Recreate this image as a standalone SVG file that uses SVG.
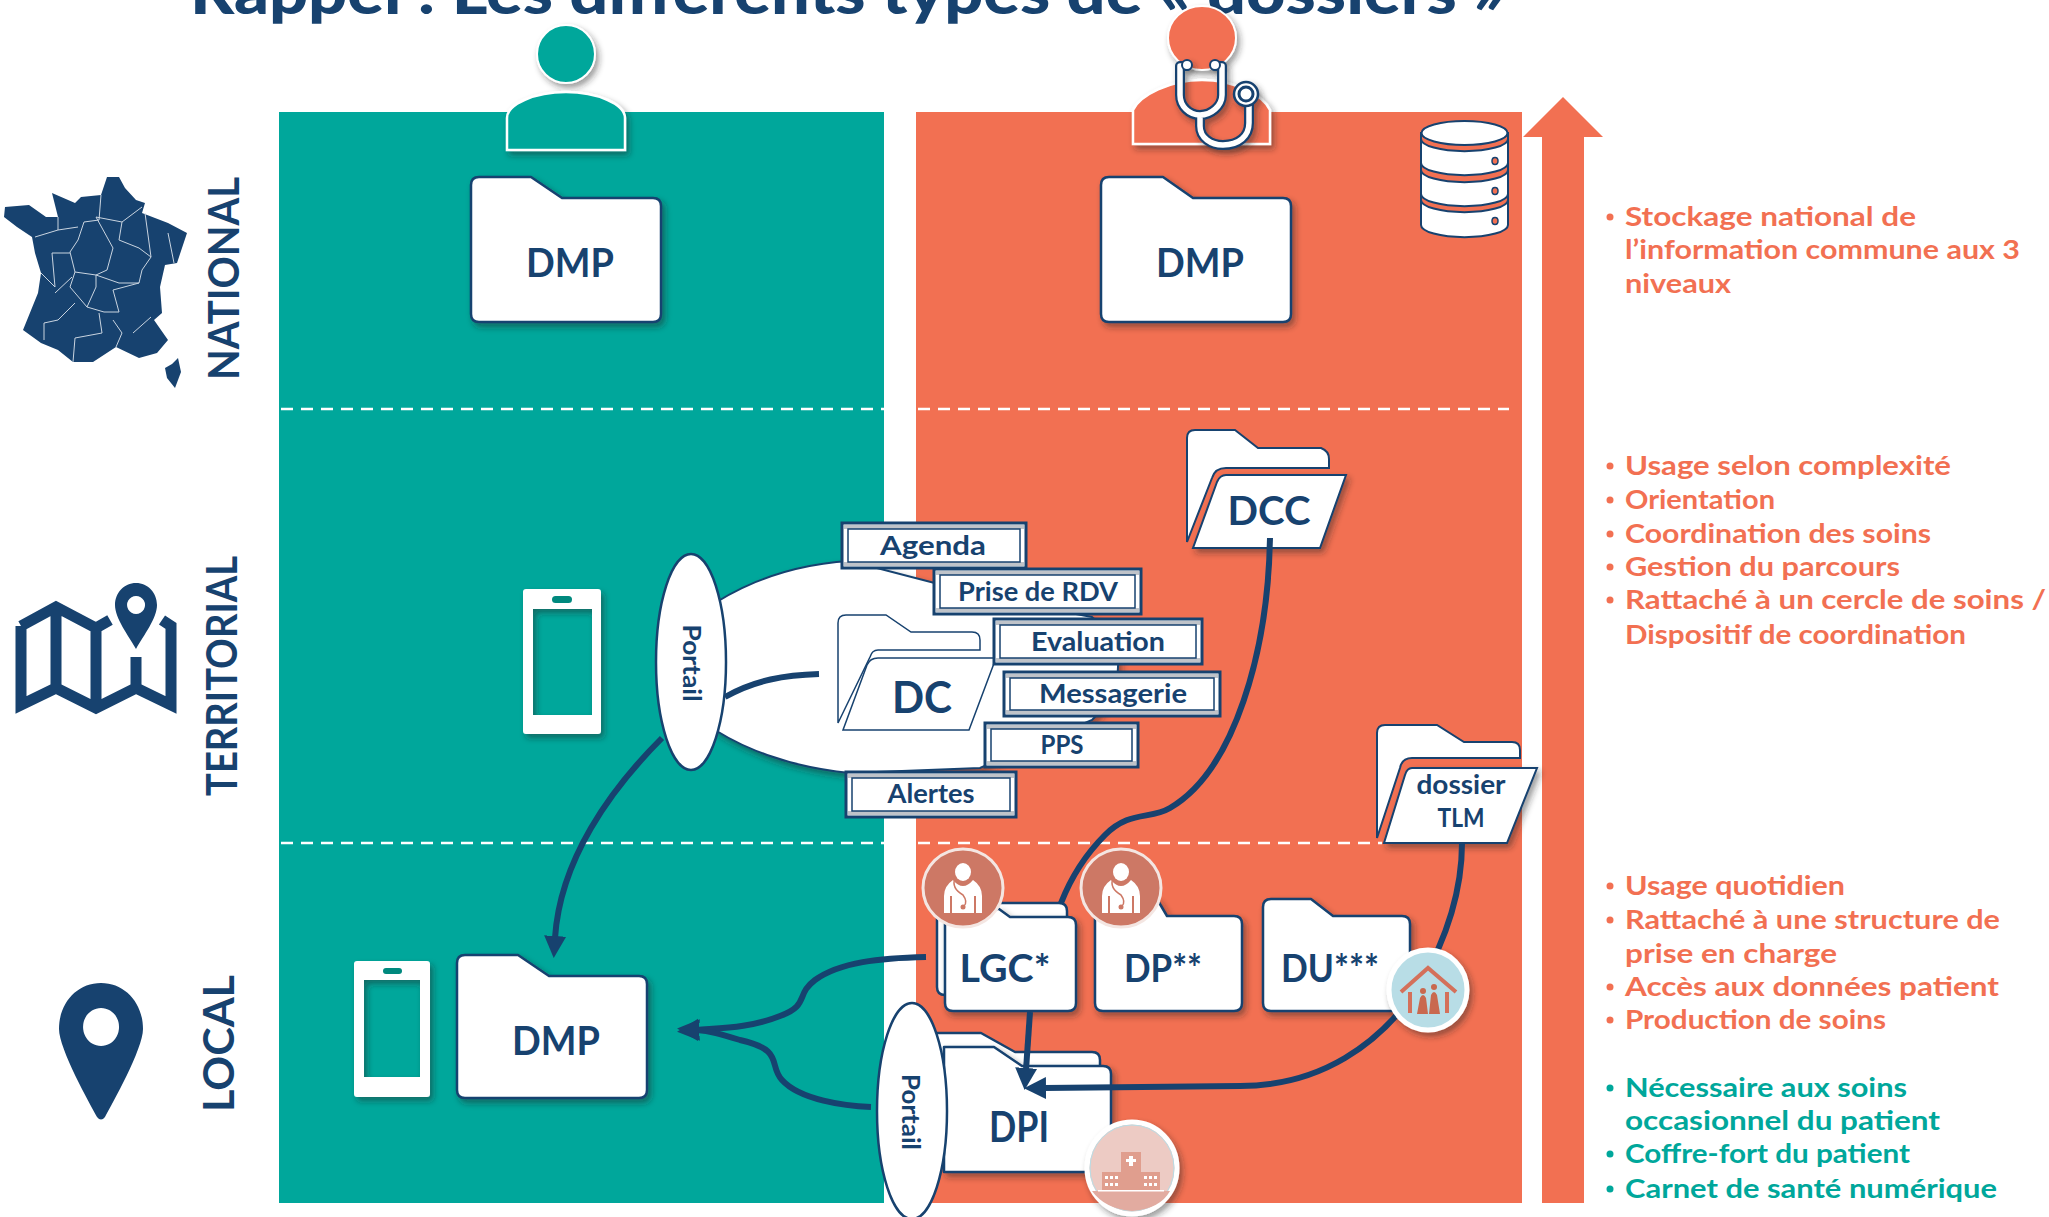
<svg xmlns="http://www.w3.org/2000/svg" width="2049" height="1217" viewBox="0 0 2049 1217">
<style>
text{font-family:"Lato","Liberation Sans",sans-serif;font-weight:700;fill:#17426F}
.c{text-anchor:middle}
.f{fill:#fff;stroke:#17426F;stroke-width:2.5;stroke-linejoin:round}
.card{fill:#fff;stroke:#17426F;stroke-width:3}
.inner{fill:#fff;stroke:#17426F;stroke-width:1.5}
.bev{fill:#bfc3c9}
.ct{font-size:27px}
.dash{stroke:#fff;stroke-width:2.5;stroke-dasharray:12 8;fill:none}
.o{font-size:27px;fill:#F27052}
.t{font-size:27px;fill:#00A79B}
.bo{fill:#F27052}.bt{fill:#00A79B}
.conn{fill:none;stroke:#17426F;stroke-width:6;stroke-linecap:butt}
.tube{fill:none;stroke:#17426F;stroke-width:10;stroke-linecap:round;stroke-linejoin:round}
.tubew{fill:none;stroke:#fff;stroke-width:5.5;stroke-linecap:round;stroke-linejoin:round}
.reg{fill:none;stroke:#c9d4e0;stroke-width:1}
.db{fill:#fff;stroke:#17426F;stroke-width:2}
.dbo{fill:#F27052;stroke:#17426F;stroke-width:2}
</style>
<defs>
<filter id="sh" x="-20%" y="-20%" width="140%" height="140%"><feDropShadow dx="3" dy="4" stdDeviation="3" flood-color="#222" flood-opacity="0.45"/></filter>
<marker id="ah" markerUnits="userSpaceOnUse" markerWidth="24" markerHeight="24" refX="2" refY="11" orient="auto"><path d="M0,0L22,11L0,22Z" fill="#17426F"/></marker>
</defs>

<rect id="band-patient" x="279" y="112" width="605" height="1091" fill="#00A79B"/>
<rect id="band-pro" x="916" y="112" width="606" height="1091" fill="#F27052"/>
<path d="M281,409H884M281,843H884M918,409H1509M918,843H1382" class="dash"/>

<text x="190" y="14" font-size="60" style="font-weight:900" textLength="1315" lengthAdjust="spacingAndGlyphs">Rappel : Les différents types de « dossiers »</text>

<g id="arrow-up"><path d="M1542,1203V137H1523L1563,97L1603,137H1584V1203Z" fill="#F27052"/></g>

<g id="level-national">
<path fill="#17426F" d="M107,177L119,177L125,188L136,200L145,203L142,213L168,223L187,233L177,263L165,265L160,287L162,313L154,320L168,340L157,353L139,358L116,347L93,362L73,362L58,350L41,343L23,330L38,293L41,273L35,253L32,237L17,227L4,217L5,207L29,205L46,217L58,217L52,193L75,203L81,197L101,195Z"/>
<path fill="#17426F" d="M178,358L181,372L175,388L167,378L165,368L172,364Z"/>
<path class="reg" d="M101,195L99,220L84,222L78,240L70,252L75,272L96,275L107,270L113,248L96,217L122,222L142,207M122,222L119,240L139,248L151,257L145,213M151,257L142,270L139,283M35,237L58,230L58,217M58,230L78,227M70,253L52,253L55,287L41,273M55,293L72,277M75,272L70,287L87,307L96,287L96,275L119,283L139,283L113,290L119,312L104,312L87,307M75,303L58,320L44,323L44,340M99,313L102,333L75,338L73,362M113,320L122,333L116,347M133,333L151,317M168,233L174,263"/>
<text transform="translate(239,380) rotate(-90)" font-size="42" textLength="203" lengthAdjust="spacingAndGlyphs">NATIONAL</text>
</g>
<g id="level-territorial">
<path fill="none" stroke="#17426F" stroke-width="11" d="M21,626V705L56,688L96,708L136,688L171,705V626L162,620M110,620L96,628L56,607L21,626M56,607V688M96,628V708M136,657V688"/>
<path fill="#17426F" fill-rule="evenodd" d="M136,583C148,583 157,593 157,605C157,618 144,635 136,649C128,635 115,618 115,605C115,593 124,583 136,583ZM136,596A9,9 0 1 0 136.1,596Z"/>
<text transform="translate(237,796) rotate(-90)" font-size="42" textLength="240" lengthAdjust="spacingAndGlyphs">TERRITORIAL</text>
</g>
<g id="level-local">
<path fill="#17426F" fill-rule="evenodd" d="M101,983C125,983 143,1003 143,1029C143,1049 112,1104 105,1117Q101,1122 97,1117C90,1104 59,1049 59,1029C59,1003 77,983 101,983ZM101,1008A18,19 0 1 0 101.1,1008Z"/>
<text transform="translate(234,1112) rotate(-90)" font-size="42" textLength="137" lengthAdjust="spacingAndGlyphs">LOCAL</text>
</g>

<g id="patient" filter="url(#sh)">
<ellipse cx="566" cy="54" rx="29" ry="29" fill="#00A79B" stroke="#fff" stroke-width="2"/>
<path d="M507,150V118C507,104 535,92 566,92C597,92 625,104 625,118V150Z" fill="#00A79B" stroke="#fff" stroke-width="2.5"/>
</g>
<g id="doctor">
<g filter="url(#sh)">
<ellipse cx="1202" cy="38" rx="34" ry="32" fill="#F27052" stroke="#fff" stroke-width="2"/>
<path d="M1133,144V110C1140,95 1170,80 1202,80C1234,80 1263,95 1270,110V144Z" fill="#F27052" stroke="#fff" stroke-width="2.5"/>
</g>
<g filter="url(#sh)">
<path class="tube" d="M1187,66H1180V95C1180,106 1189,115 1200,115C1211,115 1222,106 1222,95V66H1215M1200,115V126C1200,138 1211,145 1223,145C1239,145 1249,136 1249,123V105"/>
<path class="tubew" d="M1187,66H1180V95C1180,106 1189,115 1200,115C1211,115 1222,106 1222,95V66H1215M1200,115V126C1200,138 1211,145 1223,145C1239,145 1249,136 1249,123V105"/>
<circle cx="1246" cy="94" r="12" fill="#fff" stroke="#17426F" stroke-width="2.5"/>
<circle cx="1246" cy="94" r="7" fill="#fff" stroke="#17426F" stroke-width="3"/>
<circle cx="1187" cy="65" r="5" fill="#fff" stroke="#17426F" stroke-width="2"/>
<circle cx="1215" cy="65" r="5" fill="#fff" stroke="#17426F" stroke-width="2"/>
</g>
</g>
<g id="database">
<path class="db" d="M1421,195V225A43,12 0 0 0 1508,225V195Z"/>
<path class="dbo" d="M1421,190V200A43,12 0 0 0 1508,200V190Z"/>
<path class="db" d="M1421,165V194A43,12 0 0 0 1508,194V165Z"/>
<path class="dbo" d="M1421,160V170A43,12 0 0 0 1508,170V160Z"/>
<path class="db" d="M1421,135V163A43,12 0 0 0 1508,163V135Z"/>
<path class="dbo" d="M1421,133V139A43,12 0 0 0 1508,139V133Z"/>
<ellipse class="db" cx="1464.5" cy="133" rx="43" ry="12"/>
<ellipse cx="1495" cy="161" rx="3" ry="3.5" fill="#F27052" stroke="#17426F" stroke-width="1.5"/>
<ellipse cx="1495" cy="191" rx="3" ry="3.5" fill="#F27052" stroke="#17426F" stroke-width="1.5"/>
<ellipse cx="1495" cy="221" rx="3" ry="3.5" fill="#F27052" stroke="#17426F" stroke-width="1.5"/>
</g>

<g id="dmp-patient-national">
<path class="f" filter="url(#sh)" d="M479,177H531L562,198H653Q661,198 661,206V314Q661,322 653,322H479Q471,322 471,314V185Q471,177 479,177Z"/>
<text class="c" x="570" y="277" font-size="41" textLength="88" lengthAdjust="spacingAndGlyphs">DMP</text>
</g>
<g id="dmp-pro-national">
<path class="f" filter="url(#sh)" d="M1109,177H1163L1193,198H1283Q1291,198 1291,206V314Q1291,322 1283,322H1109Q1101,322 1101,314V185Q1101,177 1109,177Z"/>
<text class="c" x="1200" y="277" font-size="41" textLength="88" lengthAdjust="spacingAndGlyphs">DMP</text>
</g>

<g id="phone-territorial" filter="url(#sh)">
<path fill="#fff" fill-rule="evenodd" d="M526,589H598Q601,589 601,592V731Q601,734 598,734H526Q523,734 523,731V592Q523,589 526,589ZM533,609V715H592V609Z"/>
</g>
<rect x="552" y="596" width="20" height="7" rx="3.5" fill="#00897E"/>

<g id="phone-local" filter="url(#sh)">
<path fill="#fff" fill-rule="evenodd" d="M357,961H427Q430,961 430,964V1094Q430,1097 427,1097H357Q354,1097 354,1094V964Q354,961 357,961ZM364,980V1077H420V980Z"/>
</g>
<rect x="383" y="968" width="19" height="6" rx="3" fill="#00897E"/>

<g id="dmp-patient-local">
<path class="f" filter="url(#sh)" d="M465,955H518L549,976H639Q647,976 647,984V1090Q647,1098 639,1098H465Q457,1098 457,1090V963Q457,955 465,955Z"/>
<text class="c" x="556" y="1055" font-size="41" textLength="88" lengthAdjust="spacingAndGlyphs">DMP</text>
</g>

<g id="blob">
<path d="M715,603C755,578 800,564 850,561L1000,600L1092,617Q1120,640 1118,667Q1118,695 1092,720L980,768L850,773C800,768 755,755 715,730Z" fill="#fff" stroke="#17426F" stroke-width="2" filter="url(#sh)"/>
</g>

<g id="dc">
<path d="M846,615H886L911,632H972Q980,632 980,640V650H878Q872,650 870,657L838,723V623Q838,615 846,615Z" fill="#fff" stroke="#17426F" stroke-width="1.5"/>
<path d="M878,658H996L969,730H843L867,665Q870,658 878,658Z" fill="#fff" stroke="#17426F" stroke-width="1.5"/>
<text class="c" x="922" y="713" font-size="44" textLength="60" lengthAdjust="spacingAndGlyphs">DC</text>
</g>

<g id="dcc">
<path d="M1195,430H1235L1258,448H1321Q1329,451 1329,459V468H1226Q1215,468 1212,478L1187,542V438Q1187,430 1195,430Z" fill="#fff" stroke="#17426F" stroke-width="2"/>
<path d="M1226,475H1346L1320,548H1193L1217,482Q1220,475 1226,475Z" fill="#fff" stroke="#17426F" stroke-width="2" filter="url(#sh)"/>
<text class="c" x="1269" y="525" font-size="40" textLength="83" lengthAdjust="spacingAndGlyphs">DCC</text>
</g>
<g id="tlm">
<path d="M1385,725H1437L1464,742H1512Q1520,742 1520,750V758H1412Q1402,758 1400,768L1377,838V733Q1377,725 1385,725Z" fill="#fff" stroke="#17426F" stroke-width="2"/>
<path d="M1412,768H1537L1507,843H1384L1405,775Q1407,768 1412,768Z" fill="#fff" stroke="#17426F" stroke-width="2" filter="url(#sh)"/>
<text class="c" x="1461" y="794" font-size="26" textLength="89" lengthAdjust="spacingAndGlyphs">dossier</text>
<text class="c" x="1461" y="827" font-size="26" textLength="47" lengthAdjust="spacingAndGlyphs">TLM</text>
</g>

<g id="lgc">
<path class="f" d="M945,903H1059Q1067,903 1067,911V990Q1067,995 1060,995H945Q937,995 937,987V911Q937,903 945,903Z"/>
<path class="f" filter="url(#sh)" d="M953,909H999L1010,917H1068Q1076,917 1076,925V1003Q1076,1011 1068,1011H953Q945,1011 945,1003V917Q945,909 953,909Z"/>
<text class="c" x="1005" y="982" font-size="38" textLength="91" lengthAdjust="spacingAndGlyphs">LGC*</text>
</g>
<g id="dp">
<path class="f" filter="url(#sh)" d="M1103,899H1157L1167,916H1234Q1242,916 1242,924V1003Q1242,1011 1234,1011H1103Q1095,1011 1095,1003V907Q1095,899 1103,899Z"/>
<text class="c" x="1163" y="982" font-size="38" textLength="78" lengthAdjust="spacingAndGlyphs">DP**</text>
</g>
<g id="du">
<path class="f" filter="url(#sh)" d="M1271,899H1311L1333,916H1402Q1410,916 1410,924V1003Q1410,1011 1402,1011H1271Q1263,1011 1263,1003V907Q1263,899 1271,899Z"/>
<text class="c" x="1330" y="982" font-size="38" textLength="98" lengthAdjust="spacingAndGlyphs">DU***</text>
</g>
<g id="dpi">
<path class="f" d="M935,1033H981L1015,1052H1092Q1100,1052 1100,1060V1100H935Z"/>
<path class="f" filter="url(#sh)" d="M944,1047H994L1022,1066H1103Q1111,1066 1111,1074V1164Q1111,1172 1103,1172H944Z"/>
<text class="c" x="1019" y="1142" font-size="42" textLength="60" lengthAdjust="spacingAndGlyphs">DPI</text>
</g>

<g id="connectors">
<path class="conn" d="M1270,538C1268,650 1235,770 1170,808C1150,820 1130,810 1105,835C1085,855 1072,875 1061,903"/>
<path class="conn" d="M725,697C755,680 785,675 819,674"/>
<path class="conn" marker-end="url(#ah)" d="M662,738C610,790 560,860 555,938"/>
<path class="conn" marker-end="url(#ah)" d="M926,957C880,958 840,962 815,980C795,995 810,1005 780,1016C750,1028 720,1028 697,1030"/>
<path class="conn" marker-end="url(#ah)" d="M871,1107C845,1106 800,1100 782,1080C768,1065 785,1050 740,1040C720,1034 710,1031 697,1030"/>
<path class="conn" marker-end="url(#ah)" d="M1030,1012L1026,1070"/>
<path class="conn" marker-end="url(#ah)" d="M1462,843C1462,900 1440,950 1420,985C1380,1045 1320,1086 1240,1086L1044,1088"/>
</g>

<g id="portail-1">
<ellipse cx="691" cy="662" rx="35" ry="108" fill="#fff" stroke="#17426F" stroke-width="2.5"/>
<text class="c" transform="translate(683,663) rotate(90)" font-size="24" textLength="77" lengthAdjust="spacingAndGlyphs">Portail</text>
</g>
<g id="portail-2">
<ellipse cx="912" cy="1111" rx="35" ry="108" fill="#fff" stroke="#17426F" stroke-width="2.5"/>
<text class="c" transform="translate(902,1112) rotate(90)" font-size="24" textLength="76" lengthAdjust="spacingAndGlyphs">Portail</text>
</g>

<g id="card-agenda">
<rect class="card" x="842" y="523" width="184" height="45"/><rect class="bev" x="844" y="525" width="180" height="4"/><rect class="bev" x="844" y="562" width="180" height="4"/><rect class="inner" x="848" y="529" width="172" height="33"/>
<text class="c ct" x="933" y="555" textLength="106" lengthAdjust="spacingAndGlyphs">Agenda</text>
</g>
<g id="card-rdv">
<rect class="card" x="934" y="569" width="207" height="45"/><rect class="bev" x="936" y="571" width="203" height="4"/><rect class="bev" x="936" y="608" width="203" height="4"/><rect class="inner" x="940" y="575" width="195" height="33"/>
<text class="c ct" x="1038" y="601" textLength="160" lengthAdjust="spacingAndGlyphs">Prise de RDV</text>
</g>
<g id="card-evaluation">
<rect class="card" x="994" y="619" width="208" height="45"/><rect class="bev" x="996" y="621" width="204" height="4"/><rect class="bev" x="996" y="658" width="204" height="4"/><rect class="inner" x="1000" y="625" width="196" height="33"/>
<text class="c ct" x="1098" y="651" textLength="134" lengthAdjust="spacingAndGlyphs">Evaluation</text>
</g>
<g id="card-messagerie">
<rect class="card" x="1004" y="672" width="216" height="44"/><rect class="bev" x="1006" y="674" width="212" height="4"/><rect class="bev" x="1006" y="710" width="212" height="4"/><rect class="inner" x="1010" y="678" width="204" height="32"/>
<text class="c ct" x="1113" y="703" textLength="148" lengthAdjust="spacingAndGlyphs">Messagerie</text>
</g>
<g id="card-pps">
<rect class="card" x="985" y="723" width="153" height="44"/><rect class="bev" x="987" y="725" width="149" height="4"/><rect class="bev" x="987" y="761" width="149" height="4"/><rect class="inner" x="991" y="729" width="141" height="32"/>
<text class="c ct" x="1062" y="754" textLength="43" lengthAdjust="spacingAndGlyphs">PPS</text>
</g>
<g id="card-alertes">
<rect class="card" x="846" y="772" width="170" height="45"/><rect class="bev" x="848" y="774" width="166" height="4"/><rect class="bev" x="848" y="811" width="166" height="4"/><rect class="inner" x="852" y="778" width="158" height="33"/>
<text class="c ct" x="931" y="803" textLength="87" lengthAdjust="spacingAndGlyphs">Alertes</text>
</g>

<g id="badge-doc-1">
<ellipse cx="963" cy="888" rx="40" ry="39" fill="#CD7865" stroke="#f4e6e2" stroke-width="3"/>
<ellipse cx="963" cy="872" rx="8" ry="9" fill="#fff"/>
<path d="M953,880Q944,886 944,896V913H950V896H952V913H974V896H976V913H982V896Q982,886 973,880Q968,886 963,886Q958,886 953,880Z" fill="#fff"/>
<path d="M955,878Q951,888 963,895Q968,902 964,906" fill="none" stroke="#CD7865" stroke-width="1.5"/>
<circle cx="963" cy="907" r="2.5" fill="#CD7865"/>
</g>
<g id="badge-doc-2">
<ellipse cx="1121" cy="888" rx="40" ry="39" fill="#CD7865" stroke="#f4e6e2" stroke-width="3"/>
<ellipse cx="1121" cy="872" rx="8" ry="9" fill="#fff"/>
<path d="M1111,880Q1102,886 1102,896V913H1108V896H1110V913H1132V896H1134V913H1140V896Q1140,886 1131,880Q1126,886 1121,886Q1116,886 1111,880Z" fill="#fff"/>
<path d="M1113,878Q1109,888 1121,895Q1126,902 1122,906" fill="none" stroke="#CD7865" stroke-width="1.5"/>
<circle cx="1121" cy="907" r="2.5" fill="#CD7865"/>
</g>
<g id="badge-home" filter="url(#sh)">
<ellipse cx="1428" cy="990" rx="39" ry="40" fill="#B8DDE6" stroke="#fff" stroke-width="5"/>
<path d="M1401,992L1428,968L1456,992M1410,992V1013M1447,992V1013" fill="none" stroke="#D4705A" stroke-width="4"/>
<path d="M1417,1014L1420,998Q1423,992 1426,998L1428,1014ZM1429,1014L1431,995Q1434,989 1437,995L1440,1014Z" fill="#C9694F"/>
<circle cx="1423" cy="991" r="3" fill="#C9694F"/><circle cx="1434" cy="987" r="3" fill="#C9694F"/>
</g>
<g id="badge-hospital" filter="url(#sh)">
<ellipse cx="1132" cy="1168" rx="45" ry="46" fill="#EDCBC4" stroke="#fff" stroke-width="5"/>
<ellipse cx="1132" cy="1168" rx="42" ry="43" fill="none" stroke="#B8DDE6" stroke-width="1"/>
<path d="M1092,1191H1170Q1160,1209 1132,1211Q1105,1209 1092,1191Z" fill="#E2ABA0"/>
<path d="M1121,1152H1141V1172H1160V1190H1102V1172H1121Z" fill="#E09E8E"/>
<path d="M1129,1166h4v-4h3v-3h-3v-3h-4v3h-3v3h3z" fill="#fff"/>
<path d="M1105,1176h3v3h-3zM1110,1176h3v3h-3zM1115,1176h3v3h-3zM1105,1183h3v3h-3zM1110,1183h3v3h-3zM1115,1183h3v3h-3zM1144,1176h3v3h-3zM1149,1176h3v3h-3zM1154,1176h3v3h-3zM1144,1183h3v3h-3zM1149,1183h3v3h-3zM1154,1183h3v3h-3z" fill="#fff"/>
<rect x="1098" y="1190" width="66" height="1.5" fill="#fff"/>
</g>

<g id="legend">
<g class="bo">
<circle cx="1610" cy="217" r="3.5"/><circle cx="1610" cy="466" r="3.5"/><circle cx="1610" cy="500" r="3.5"/><circle cx="1610" cy="534" r="3.5"/><circle cx="1610" cy="567" r="3.5"/><circle cx="1610" cy="600" r="3.5"/><circle cx="1610" cy="886" r="3.5"/><circle cx="1610" cy="920" r="3.5"/><circle cx="1610" cy="987" r="3.5"/><circle cx="1610" cy="1020" r="3.5"/>
</g>
<g class="bt"><circle cx="1610" cy="1088" r="3.5"/><circle cx="1610" cy="1154" r="3.5"/><circle cx="1610" cy="1189" r="3.5"/></g>
<text class="o" x="1625" y="226" textLength="291" lengthAdjust="spacingAndGlyphs">Stockage national de</text>
<text class="o" x="1625" y="259" textLength="395" lengthAdjust="spacingAndGlyphs">l’information commune aux 3</text>
<text class="o" x="1625" y="293" textLength="106" lengthAdjust="spacingAndGlyphs">niveaux</text>
<text class="o" x="1625" y="475" textLength="326" lengthAdjust="spacingAndGlyphs">Usage selon complexité</text>
<text class="o" x="1625" y="509" textLength="150" lengthAdjust="spacingAndGlyphs">Orientation</text>
<text class="o" x="1625" y="543" textLength="306" lengthAdjust="spacingAndGlyphs">Coordination des soins</text>
<text class="o" x="1625" y="576" textLength="275" lengthAdjust="spacingAndGlyphs">Gestion du parcours</text>
<text class="o" x="1625" y="609" textLength="421" lengthAdjust="spacingAndGlyphs">Rattaché à un cercle de soins /</text>
<text class="o" x="1625" y="644" textLength="341" lengthAdjust="spacingAndGlyphs">Dispositif de coordination</text>
<text class="o" x="1625" y="895" textLength="220" lengthAdjust="spacingAndGlyphs">Usage quotidien</text>
<text class="o" x="1625" y="929" textLength="375" lengthAdjust="spacingAndGlyphs">Rattaché à une structure de</text>
<text class="o" x="1625" y="963" textLength="212" lengthAdjust="spacingAndGlyphs">prise en charge</text>
<text class="o" x="1625" y="996" textLength="374" lengthAdjust="spacingAndGlyphs">Accès aux données patient</text>
<text class="o" x="1625" y="1029" textLength="261" lengthAdjust="spacingAndGlyphs">Production de soins</text>
<text class="t" x="1625" y="1097" textLength="282" lengthAdjust="spacingAndGlyphs">Nécessaire aux soins</text>
<text class="t" x="1625" y="1130" textLength="315" lengthAdjust="spacingAndGlyphs">occasionnel du patient</text>
<text class="t" x="1625" y="1163" textLength="285" lengthAdjust="spacingAndGlyphs">Coffre-fort du patient</text>
<text class="t" x="1625" y="1198" textLength="372" lengthAdjust="spacingAndGlyphs">Carnet de santé numérique</text>
</g>
</svg>
